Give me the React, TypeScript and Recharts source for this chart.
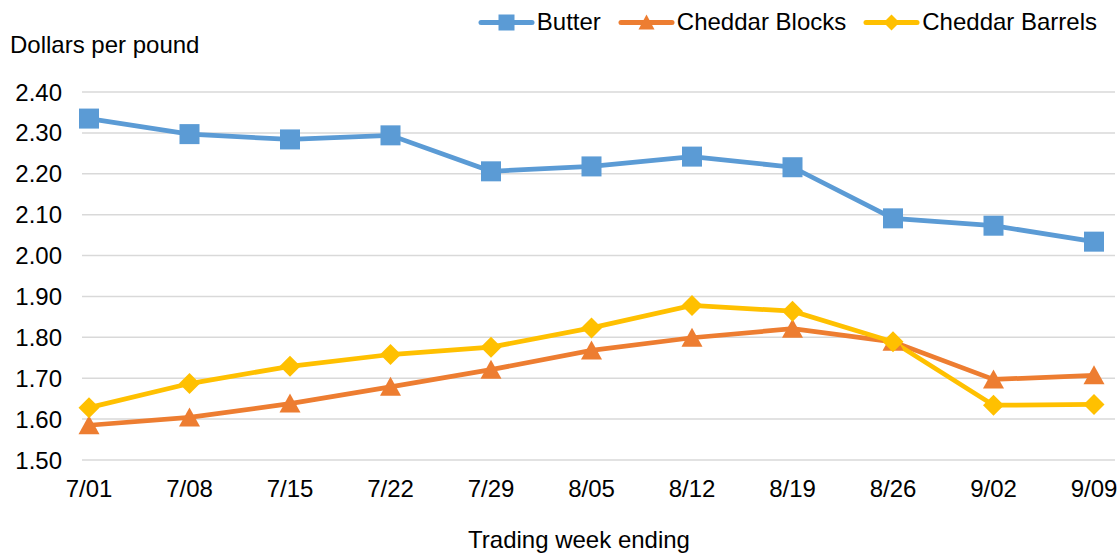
import { LineChart, Line, XAxis, YAxis, CartesianGrid } from 'recharts';

const weeks = ['7/01', '7/08', '7/15', '7/22', '7/29', '8/05', '8/12', '8/19', '8/26', '9/02', '9/09'];
const butter = [2.335, 2.297, 2.284, 2.294, 2.206, 2.218, 2.242, 2.216, 2.091, 2.073, 2.034];
const cheddarBlocks = [1.585, 1.604, 1.638, 1.679, 1.721, 1.768, 1.799, 1.821, 1.789, 1.697, 1.707];
const cheddarBarrels = [1.628, 1.687, 1.729, 1.758, 1.776, 1.823, 1.878, 1.864, 1.789, 1.634, 1.636];
const yTicks = [1.5, 1.6, 1.7, 1.8, 1.9, 2.0, 2.1, 2.2, 2.3, 2.4];

const BLUE = '#5B9BD5';
const ORANGE = '#ED7D31';
const GOLD = '#FFC000';
const FONT = '"Liberation Sans", Arial, sans-serif';
const FS = 24;

const data = weeks.map((w, i) => ({
  week: w,
  butter: butter[i],
  blocks: cheddarBlocks[i],
  barrels: cheddarBarrels[i],
}));

function squareDot(props: any) {
  const { cx, cy, index } = props;
  return <rect key={`sq-${index}`} x={cx - 10} y={cy - 10} width={20} height={20} fill={BLUE} />;
}

function triangleDot(props: any) {
  const { cx, cy, index } = props;
  return (
    <polygon
      key={`tr-${index}`}
      points={`${cx},${cy - 10} ${cx - 10.5},${cy + 9} ${cx + 10.5},${cy + 9}`}
      fill={ORANGE}
    />
  );
}

function diamondDot(props: any) {
  const { cx, cy, index } = props;
  return (
    <polygon
      key={`dm-${index}`}
      points={`${cx},${cy - 10.5} ${cx + 10.5},${cy} ${cx},${cy + 10.5} ${cx - 10.5},${cy}`}
      fill={GOLD}
    />
  );
}

function LegendIcon({ color, shape }: { color: string; shape: string }) {
  let marker;
  if (shape === 'square') marker = <rect x={20.5} y={2.5} width={16} height={16} fill={color} />;
  else if (shape === 'triangle') marker = <polygon points="28.5,2.5 20.5,17.5 36.5,17.5" fill={color} />;
  else marker = <polygon points="28.5,2.5 36.5,10.5 28.5,18.5 20.5,10.5" fill={color} />;
  return (
    <svg width={57} height={21} style={{ display: 'block' }}>
      <line x1={3} y1={10.5} x2={54} y2={10.5} stroke={color} strokeWidth={5} strokeLinecap="round" />
      {marker}
    </svg>
  );
}

const legendItems = [
  { name: 'Butter', color: BLUE, shape: 'square' },
  { name: 'Cheddar Blocks', color: ORANGE, shape: 'triangle' },
  { name: 'Cheddar Barrels', color: GOLD, shape: 'diamond' },
];

export default function App() {
  return (
    <div
      style={{
        position: 'absolute',
        left: 0,
        top: 0,
        width: 1119,
        height: 554,
        background: '#fff',
        fontFamily: FONT,
        color: '#000',
      }}
    >
      <LineChart
        width={1119}
        height={554}
        data={data}
        margin={{ top: 92, right: 4, bottom: 34, left: 0 }}
      >
        <CartesianGrid vertical={false} stroke="#d9d9d9" strokeWidth={1.5} />
        <XAxis
          dataKey="week"
          height={60}
          axisLine={false}
          tickLine={false}
          tickSize={0}
          tickMargin={20}
          padding={{ left: 7, right: 21 }}
          interval={0}
          tick={{ fontSize: FS, fill: '#000', fontFamily: FONT }}
        />
        <YAxis
          width={82}
          domain={[1.5, 2.4]}
          ticks={yTicks}
          axisLine={false}
          tickLine={false}
          tickSize={0}
          tickMargin={20}
          tickFormatter={(v: number) => v.toFixed(2)}
          tick={{ fontSize: FS, fill: '#000', fontFamily: FONT }}
        />
        <Line
          dataKey="butter"
          stroke={BLUE}
          strokeWidth={4.75}
          dot={squareDot}
          activeDot={false}
          isAnimationActive={false}
        />
        <Line
          dataKey="blocks"
          stroke={ORANGE}
          strokeWidth={4.75}
          dot={triangleDot}
          activeDot={false}
          isAnimationActive={false}
        />
        <Line
          dataKey="barrels"
          stroke={GOLD}
          strokeWidth={4.75}
          dot={diamondDot}
          activeDot={false}
          isAnimationActive={false}
        />
      </LineChart>

      <div
        style={{
          position: 'absolute',
          left: 10,
          top: 33,
          fontSize: FS,
          lineHeight: 1,
          whiteSpace: 'nowrap',
        }}
      >
        Dollars per pound
      </div>

      <div
        style={{
          position: 'absolute',
          left: 0,
          width: 1158,
          top: 528,
          fontSize: FS,
          lineHeight: 1,
          textAlign: 'center',
          whiteSpace: 'nowrap',
        }}
      >
        Trading week ending
      </div>

      <div
        style={{
          position: 'absolute',
          right: 22,
          top: 10,
          display: 'flex',
          alignItems: 'center',
          fontSize: FS,
          lineHeight: 1,
          whiteSpace: 'nowrap',
        }}
      >
        {legendItems.map((it, i) => (
          <div
            key={it.name}
            style={{ display: 'flex', alignItems: 'center', marginLeft: i === 0 ? 0 : 17 }}
          >
            <LegendIcon color={it.color} shape={it.shape} />
            <span style={{ marginLeft: 2 }}>{it.name}</span>
          </div>
        ))}
      </div>
    </div>
  );
}
